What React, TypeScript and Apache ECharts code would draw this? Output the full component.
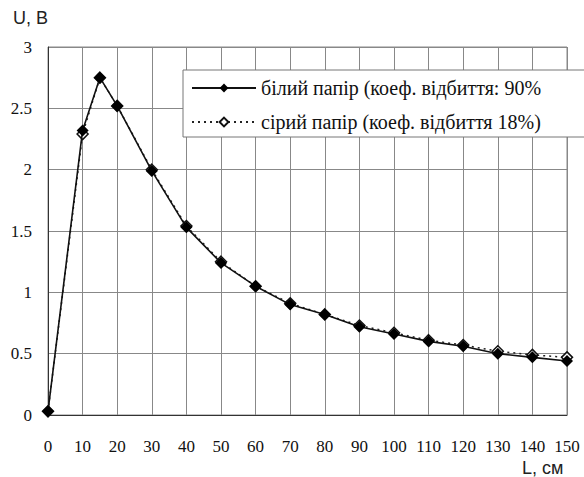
import React, { useEffect, useRef } from "react";
import * as echarts from "echarts";

const distances = [0, 10, 15, 20, 30, 40, 50, 60, 70, 80, 90, 100, 110, 120, 130, 140, 150];
const whitePaper = [0.03, 2.32, 2.75, 2.52, 1.99, 1.53, 1.24, 1.05, 0.9, 0.82, 0.72, 0.66, 0.6, 0.56, 0.5, 0.47, 0.44];
const greyPaper = [0.03, 2.29, 2.75, 2.52, 2.0, 1.54, 1.25, 1.05, 0.91, 0.82, 0.73, 0.67, 0.61, 0.57, 0.52, 0.49, 0.47];
const whiteName = "білий папір (коеф. відбиття: 90%";
const greyName = "сірий папір (коеф. відбиття 18%)";
const yTitle = "U, В";
const xTitle = "L, см";

export default function App() {
  const ref = useRef<HTMLDivElement>(null);
  useEffect(() => {
    document.body.style.margin = "0";
    const chart = echarts.init(ref.current!, null, { renderer: "svg" });
    const serif = "Liberation Serif";
    const sans = "Liberation Sans";
    chart.setOption({
      animation: false,
      textStyle: { fontFamily: serif },
      grid: { left: 48, top: 47, right: 17, bottom: 62, show: true, borderColor: "#888", borderWidth: 1 },
      xAxis: {
        type: "value",
        min: 0,
        max: 150,
        interval: 10,
        axisLine: { show: true, lineStyle: { color: "#333", width: 1 } },
        axisTick: { show: false },
        splitLine: { show: true, lineStyle: { color: "#888", width: 1 } },
        axisLabel: { fontFamily: serif, fontSize: 17, margin: 23, color: "#111" },
      },
      yAxis: {
        type: "value",
        min: 0,
        max: 3,
        interval: 0.5,
        axisLine: { show: true, lineStyle: { color: "#333", width: 1 } },
        axisTick: { show: false },
        splitLine: { show: true, lineStyle: { color: "#888", width: 1 } },
        axisLabel: { fontFamily: serif, fontSize: 17, margin: 16, padding: [8, 0, 0, 0], color: "#111" },
      },
      legend: {
        orient: "vertical",
        left: 183,
        top: 70,
        backgroundColor: "#fff",
        borderColor: "#777",
        borderWidth: 1,
        borderRadius: 0,
        padding: [8, 46, 5, 8],
        itemGap: 14,
        itemWidth: 64,
        itemHeight: 11,
        textStyle: { fontFamily: serif, fontSize: 20, color: "#111" },
        data: [whiteName, greyName],
      },
      graphic: [
        { type: "text", left: 13, top: 9, style: { text: yTitle, fontFamily: sans, fontSize: 18, fill: "#222" } },
        { type: "text", left: 522, top: 459, style: { text: xTitle, fontFamily: sans, fontSize: 18, fill: "#222" } },
      ],
      series: [
        {
          name: greyName,
          type: "line",
          data: distances.map((d, i) => [d, greyPaper[i]]),
          symbol: "diamond",
          symbolSize: 11,
          lineStyle: { color: "#222", width: 1.5, type: [2, 4] },
          itemStyle: { color: "#fff", borderColor: "#111", borderWidth: 1.5 },
          z: 2,
        },
        {
          name: whiteName,
          type: "line",
          data: distances.map((d, i) => [d, whitePaper[i]]),
          symbol: "diamond",
          symbolSize: 12,
          lineStyle: { color: "#111", width: 1.6 },
          itemStyle: { color: "#000" },
          z: 3,
        },
      ],
    });
    return () => chart.dispose();
  }, []);
  return <div ref={ref} style={{ width: 584, height: 477 }} />;
}
